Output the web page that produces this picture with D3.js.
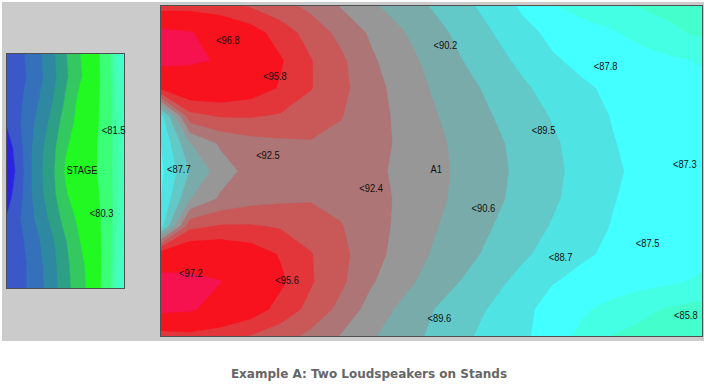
<!DOCTYPE html>
<html>
<head>
<meta charset="utf-8">
<script src="https://cdn.jsdelivr.net/npm/d3@7"></script>
<style>
  body { margin: 0; background: #fff; }
  svg { display: block; }
  .lbl { font-family: "Liberation Sans", Arial, sans-serif; font-size: 11px; fill: #111; }
  .caption { font-family: "DejaVu Sans", Verdana, sans-serif; font-size: 12px; font-weight: bold; fill: #666; }
</style>
</head>
<body>
<div id="map"></div>
<script>
// SPL coverage map - two loudspeakers on stands (levels in dB)

// audience area: 19 x 13 readings over 90 ft x 55 ft
var hallCols = 19, hallRows = 13;
var hallWidthFt = 90, hallDepthFt = 55;
var hallLevels = [
  [94.3, 94.4, 94.3, 93.85, 93.35, 92.7, 91.9, 91.15, 90.52, 89.92, 89.29, 88.6, 87.84, 87.03, 86.57, 86.14, 85.9, 85.75, 85.6],
  [97.5, 97.1, 96.2, 95.5, 94.5, 93.6, 92.7, 91.85, 91.1, 90.4, 89.72, 89.02, 88.29, 87.8, 87.44, 87.09, 86.63, 86.13, 85.8],
  [97.5, 97.2, 96.9, 96.0, 95.1, 94.05, 93.2, 92.15, 91.42, 90.71, 90.02, 89.39, 88.76, 88.1, 87.8, 87.58, 87.36, 87.13, 86.9],
  [95.2, 96.0, 96.0, 95.6, 94.9, 94.05, 93.25, 92.4, 91.6, 90.95, 90.4, 89.74, 89.17, 88.64, 88.12, 87.85, 87.65, 87.45, 87.25],
  [88.4, 93.7, 94.1, 94.1, 93.9, 93.5, 93.05, 92.4, 91.77, 91.13, 90.56, 90.02, 89.46, 88.93, 88.41, 87.95, 87.7, 87.45, 87.2],
  [87.9, 90.95, 92.15, 92.6, 92.8, 92.92, 92.75, 92.45, 91.8, 91.28, 90.75, 90.23, 89.7, 89.15, 88.6, 88.05, 87.7, 87.45, 87.2],
  [87.7, 90.05, 91.5, 92.35, 92.7, 92.85, 92.7, 92.3, 91.74, 91.29, 90.82, 90.3, 89.76, 89.22, 88.68, 88.17, 87.72, 87.4, 87.15],
  [87.9, 90.95, 92.15, 92.6, 92.8, 92.92, 92.75, 92.45, 91.8, 91.28, 90.75, 90.23, 89.7, 89.15, 88.6, 88.05, 87.7, 87.45, 87.2],
  [88.4, 93.7, 94.1, 94.1, 93.9, 93.5, 93.05, 92.4, 91.77, 91.13, 90.56, 90.02, 89.46, 88.93, 88.41, 87.95, 87.7, 87.45, 87.2],
  [95.6, 96.1, 96.0, 95.6, 94.9, 94.05, 93.25, 92.4, 91.6, 90.95, 90.4, 89.74, 89.17, 88.64, 88.12, 87.85, 87.65, 87.45, 87.25],
  [97.7, 97.4, 97.05, 96.1, 95.2, 94.1, 93.2, 92.1, 91.35, 90.6, 89.95, 89.3, 88.7, 88.05, 87.75, 87.55, 87.33, 87.1, 86.85],
  [97.4, 97.2, 96.3, 95.6, 94.6, 93.7, 92.7, 91.6, 90.8, 90.05, 89.45, 88.9, 88.25, 87.65, 87.15, 86.65, 86.2, 85.85, 85.6],
  [94.3, 94.5, 94.3, 93.9, 93.4, 92.7, 91.9, 91.1, 90.5, 89.83, 89.2, 88.67, 88.2, 87.5, 86.7, 85.95, 85.7, 85.5, 85.4]
];

// stage: 9 x 11 readings over 19.6 ft x 39 ft
var stageCols = 9, stageRows = 11;
var stageWidthFt = 19.6, stageDepthFt = 39;
var stageLevels = [
  [75.3, 75.8, 76.6, 77.6, 78.9, 80.0, 80.6, 81.9, 86.9],
  [75.2, 75.7, 76.5, 77.5, 78.8, 79.9, 80.6, 81.8, 86.0],
  [75.2, 75.9, 76.8, 77.8, 79.1, 80.3, 80.7, 81.7, 85.0],
  [75.0, 76.0, 77.1, 78.2, 79.5, 80.4, 80.8, 81.6, 84.6],
  [74.3, 75.8, 77.4, 78.5, 79.9, 80.5, 80.9, 81.6, 84.5],
  [74.0, 75.6, 77.5, 78.6, 80.1, 80.6, 80.9, 81.6, 84.4],
  [74.4, 75.8, 77.4, 78.5, 79.9, 80.5, 80.8, 81.5, 84.4],
  [75.0, 76.0, 77.1, 78.2, 79.4, 80.3, 80.7, 81.5, 84.6],
  [75.2, 75.8, 76.7, 77.7, 78.9, 80.0, 80.6, 81.6, 85.0],
  [75.2, 75.7, 76.5, 77.5, 78.7, 79.8, 80.5, 81.7, 86.0],
  [75.3, 75.7, 76.5, 77.4, 78.6, 79.7, 80.5, 81.8, 86.5]
];

// 1 dB bands (lowest band catches everything under 75)
var bandThresholds = [70, 75, 76, 77, 78, 79, 80, 81, 82, 83, 84, 85, 86, 87, 88, 89, 90, 91, 92, 93, 94, 95, 97];
var bandColors = ["#2b24e0", "#3a58c8", "#3570bb", "#2f88a2", "#2d9f86", "#33c860", "#22f822",
  "#3cff78", "#40ff9c", "#44ffb4", "#44ffc2", "#44ffcc", "#44ffe4", "#44ffff", "#50e3e3",
  "#62c8c8", "#7aabab", "#979797", "#ad7575", "#c95959", "#e3363a", "#f8121e", "#f5124f"];

// measurement points (ft from the panel's top-left corner)
var hallLabels = ["<96.8", "<95.8", "<90.2", "<87.8", "<92.5", "<87.7", "A1", "<92.4", "<89.5",
  "<87.3", "<90.6", "<88.7", "<87.5", "<85.8", "<89.6", "<97.2", "<95.6"];
var hallLabelX = [9.3, 17.1, 45.33, 71.9, 15.94, 1.16, 44.83, 33.04, 61.61, 85.02, 51.64, 64.43, 78.87, 85.19, 44.34, 3.15, 19.1];
var hallLabelY = [5.82, 11.8, 6.56, 10.14, 24.92, 27.25, 27.25, 30.24, 20.77, 26.42, 33.56, 41.71, 39.38, 51.34, 51.84, 44.37, 45.53];

var stageLabels = ["<81.5", "STAGE", "<80.3"];
var stageLabelX = [15.78, 9.97, 13.79];
var stageLabelY = [12.79, 19.27, 26.41];

var captionText = "Example A: Two Loudspeakers on Stands";

// layout
var svgWidth = 704, svgHeight = 384;

var svg = d3.select("#map").append("svg")
  .attr("width", svgWidth)
  .attr("height", svgHeight);

svg.append("rect")
  .attr("x", 2).attr("y", 2)
  .attr("width", 702).attr("height", 339)
  .attr("fill", "#cbcbcb");

function drawPanel(id, box, cols, rows, widthFt, depthFt, levels, labels, labelX, labelY) {
  var x = d3.scaleLinear().domain([0, widthFt]).range([box.left, box.right]);
  var y = d3.scaleLinear().domain([0, depthFt]).range([box.top, box.bottom]);
  var stepX = widthFt / (cols - 1);
  var stepY = depthFt / (rows - 1);

  // grid cell (i + 0.5) sits on reading i
  var projection = d3.geoTransform({
    point: function(px, py) {
      this.stream.point(x((px - 0.5) * stepX), y((py - 0.5) * stepY));
    }
  });
  var path = d3.geoPath(projection);

  svg.append("clipPath")
    .attr("id", id + "-clip")
    .append("rect")
    .attr("x", box.left).attr("y", box.top)
    .attr("width", box.right - box.left)
    .attr("height", box.bottom - box.top);

  var contours = d3.contours()
    .size([cols, rows])
    .thresholds(bandThresholds)(levels.flat());

  svg.append("g")
    .attr("clip-path", "url(#" + id + "-clip)")
    .selectAll("path")
    .data(contours)
    .enter()
    .append("path")
    .attr("d", path)
    .attr("fill", function(d, i) { return bandColors[i]; })
    .attr("stroke", function(d, i) { return bandColors[i]; })
    .attr("stroke-width", 0.4);

  svg.append("rect")
    .attr("x", box.left + 0.5).attr("y", box.top + 0.5)
    .attr("width", box.right - box.left - 1)
    .attr("height", box.bottom - box.top - 1)
    .attr("fill", "none")
    .attr("stroke", "#505050");

  svg.append("g")
    .selectAll("text")
    .data(labels)
    .enter()
    .append("text")
    .attr("class", "lbl")
    .attr("x", function(d, i) { return x(labelX[i]); })
    .attr("y", function(d, i) { return y(labelY[i]) + 4; })
    .text(function(d) { return d; })
    .each(function() {
      var w = this.getComputedTextLength();
      d3.select(this)
        .attr("textLength", w * 0.85)
        .attr("lengthAdjust", "spacingAndGlyphs");
    });
}

drawPanel("stage", {left: 6, top: 53, right: 125, bottom: 289},
  stageCols, stageRows, stageWidthFt, stageDepthFt, stageLevels, stageLabels, stageLabelX, stageLabelY);

drawPanel("hall", {left: 160, top: 5, right: 703, bottom: 337},
  hallCols, hallRows, hallWidthFt, hallDepthFt, hallLevels, hallLabels, hallLabelX, hallLabelY);

svg.append("text")
  .attr("class", "caption")
  .attr("x", 369)
  .attr("y", 378)
  .attr("text-anchor", "middle")
  .text(captionText);
</script>
</body>
</html>
